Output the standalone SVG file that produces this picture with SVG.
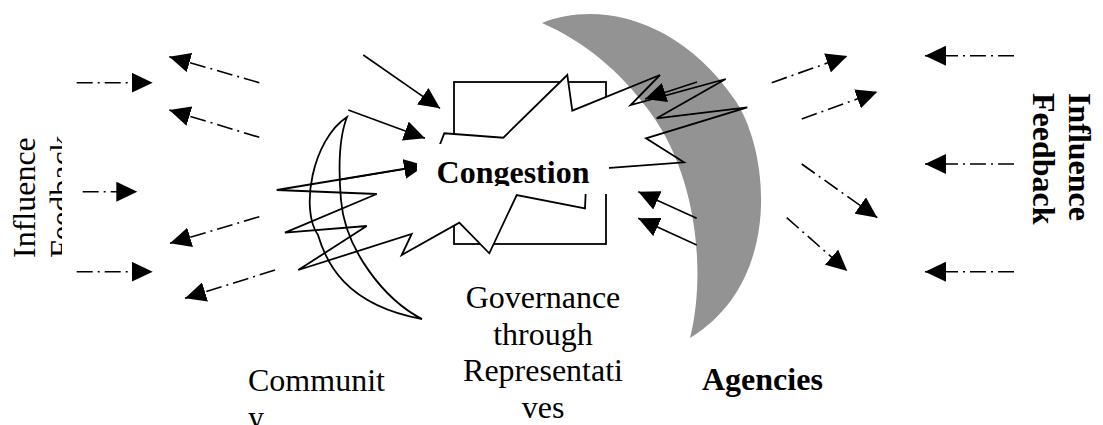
<svg xmlns="http://www.w3.org/2000/svg" width="1103" height="425" viewBox="0 0 1103 425">
<defs>
<marker id="ah" markerUnits="userSpaceOnUse" markerWidth="22" markerHeight="20" refX="21" refY="10" orient="auto" viewBox="0 0 22 20"><path d="M0,0 L21,10 L0,20 z" fill="#000"/></marker>
<clipPath id="clipCong"><rect x="417" y="140" width="192" height="46"/></clipPath>
<clipPath id="clipFb"><rect x="0" y="0" width="62" height="425"/></clipPath>
</defs>
<style>
.t{font-family:"Liberation Serif","Times New Roman",serif;font-size:32px;fill:#000}
.b{font-weight:bold}
.dd{stroke:#000;stroke-width:1.6;fill:none;stroke-dasharray:16 5 2 5;marker-end:url(#ah)}
.sa{stroke:#000;stroke-width:1.6;fill:none;marker-end:url(#ah)}
.ol{stroke:#000;stroke-width:1.8;fill:none;stroke-linejoin:miter}
</style>
<rect width="1103" height="425" fill="#fff"/>

<g id="box">
<rect x="454" y="82" width="152" height="162" class="ol"/>
</g>

<g id="congestion-fill">
<polygon fill="#fff" stroke="none" points="437,152 444.3,133.3 503.3,137.7 567.3,75 572.3,110.7 660,75 630.7,105 725.7,79 656.7,118.3 747.3,107.3 646,138.3 684,162.3 600,168.5 586,185 585,208.3 516.7,195 489.3,253.3 459.3,222.7 401.7,255 411.7,234 298.3,270 366.7,226 285,232.7 376.7,194 276.7,190 440,163"/>
</g>

<g id="agencies">
<path fill="#939393" d="M542,23 C600,0 680,20 735,100 C768,148 785,280 690,338 C705,280 700,180 650,112 C620,71 585,42 542,23 Z"/>
<text class="t b" x="702" y="390">Agencies</text>
</g>

<g id="connectors">
<path class="dd" d="M76.7,82.7 L152.7,82.7"/>
<path class="dd" d="M259.3,82.7 L169.3,56.7"/>
<path class="dd" d="M259.3,137.3 L169.3,110"/>
<path class="dd" d="M82.7,191.7 L137.3,191.7"/>
<path class="dd" d="M259.3,216.7 L170,243.3"/>
<path class="dd" d="M76.7,271.7 L152.7,271.7"/>
<path class="dd" d="M275,270 L185,298.3"/>
<path class="dd" d="M771.7,82.7 L847.3,56"/>
<path class="dd" d="M801.7,119 L877.3,91.7"/>
<path class="dd" d="M801.7,164 L877.3,217.7"/>
<path class="dd" d="M786.7,217.7 L847.3,271"/>
<path class="dd" d="M1014,55.7 L925,55.7"/>
<path class="dd" d="M1014,164 L925,164"/>
<path class="dd" d="M1014,271.7 L925,271.7"/>
<path class="sa" d="M363.3,55 L440,108.3"/>
<path class="sa" d="M348.3,110 L425,138.3"/>
<path class="sa" d="M340,179.8 L425,165.5"/>
<path class="sa" d="M696.7,218.3 L638.3,191.7"/>
<path class="sa" d="M696.7,245 L638.3,218.3"/>
<path class="sa" d="M697,82 L645,99"/>
</g>

<g id="congestion">
<polygon class="ol" points="437,152 444.3,133.3 503.3,137.7 567.3,75 572.3,110.7 660,75 630.7,105 725.7,79 656.7,118.3 747.3,107.3 646,138.3 684,162.3 600,168.5 586,185 585,208.3 516.7,195 489.3,253.3 459.3,222.7 401.7,255 411.7,234 298.3,270 366.7,226 285,232.7 376.7,194 276.7,190 440,163"/>
<rect x="417" y="144" width="192" height="50" fill="#fff"/>
<text class="t b" x="513" y="183.3" text-anchor="middle" clip-path="url(#clipCong)">Congestion</text>
</g>

<g id="community">
<path class="ol" d="M347,117 C312,140 300,210 318,235 C326,262 345,305 422,319 C385,300 345,250 341,200 C338,165 340,135 347,117 Z"/>
<text class="t" x="248" y="391">Communit</text>
<text class="t" x="248" y="427.5">y</text>
</g>

<g id="governance">
<text class="t" x="543" y="308" text-anchor="middle">Governance</text>
<text class="t" x="543" y="344.5" text-anchor="middle">through</text>
<text class="t" x="543" y="381" text-anchor="middle">Representati</text>
<text class="t" x="543" y="417.5" text-anchor="middle">ves</text>
</g>

<g id="left-label">
<text class="t" transform="translate(35,258) rotate(-90)">Influence</text>
<g clip-path="url(#clipFb)"><text class="t" transform="translate(71.5,258) rotate(-90)">Feedback</text></g>
</g>

<g id="right-label">
<text class="t b" transform="translate(1069,93) rotate(90)">Influence</text>
<text class="t b" transform="translate(1033,93) rotate(90)">Feedback</text>
</g>
</svg>
